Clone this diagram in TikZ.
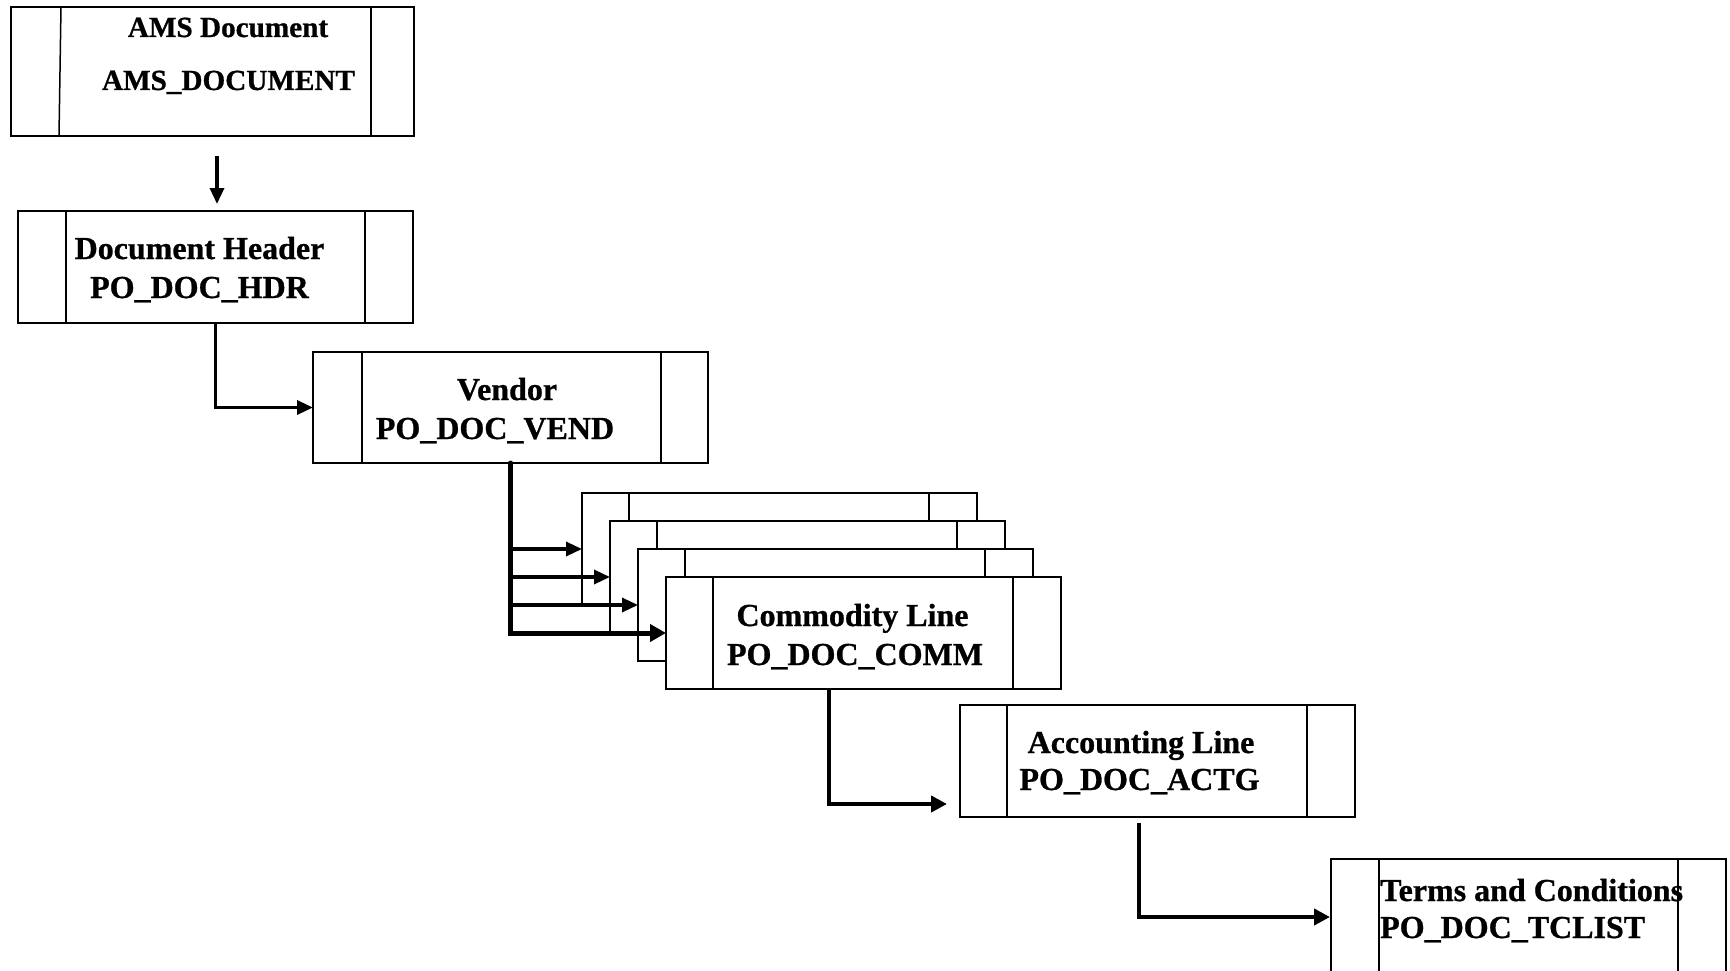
\documentclass[tikz,border=0pt]{standalone}
\usepackage{fontspec}
\setmainfont{Liberation Serif}[BoldFeatures={FakeBold=0.8}]
\usetikzlibrary{arrows.meta}

\tikzset{
  tbox/.style={draw, line width=1.5pt, fill=white, inner sep=0pt, outer sep=0pt,
               minimum width=395pt, minimum height=112pt},
  % two inner vertical bars, #1 from the left side, #2 from the right side
  sides/.style 2 args={path picture={
      \draw[line width=1.5pt]
        ([xshift=#1]path picture bounding box.north west) --
        ([xshift=#1]path picture bounding box.south west);
      \draw[line width=1.5pt]
        ([xshift=-#2]path picture bounding box.north east) --
        ([xshift=-#2]path picture bounding box.south east);}},
  lbl/.style={font=\fontsize{32}{38}\selectfont\bfseries, inner sep=0pt, anchor=base},
  small lbl/.style={lbl, font=\fontsize{29.2}{35}\selectfont\bfseries},
  link/.style={line width=3.3pt, -{Triangle[length=16pt,width=14pt]}},
  bold link/.style={line width=4.2pt, -{Triangle[length=16pt,width=16pt]}},
  heavy/.style={line width=5pt, line cap=round, -{Triangle[length=16pt,width=17pt]}},
}

\begin{document}
\begin{tikzpicture}[x=1pt, y=-1pt]
\useasboundingbox[fill=white] (0,0) rectangle (1730,971);

% top-level document box (left bar slightly slanted)
\node[tbox, minimum width=403pt, minimum height=129pt,
      path picture={
        \draw[line width=1.5pt]
          ([xshift=50pt]path picture bounding box.north west) --
          ([xshift=48pt]path picture bounding box.south west);
        \draw[line width=1.5pt]
          ([xshift=-43pt]path picture bounding box.north east) --
          ([xshift=-43pt]path picture bounding box.south east);}]
      (ams) at (212.5,71.5) {};
\node[small lbl] (amsA) at (228,37) {AMS Document};
\node[small lbl] (amsB) at (228.5,90) {AMS\_DOCUMENT};

% document header
\node[tbox, sides={48pt}{48pt}] (hdr) at (215.5,267) {};
\node[lbl] (hdrA) at (199.5,259) {Document Header};
\node[lbl] (hdrB) at (199.5,298) {PO\_DOC\_HDR};

% vendor
\node[tbox, sides={49pt}{47pt}, minimum height=111pt] (vend) at (510.5,407.5) {};
\node[lbl] (vendA) at (507,400) {Vendor};
\node[lbl] (vendB) at (495,439) {PO\_DOC\_VEND};

% stacked commodity lines
\node[tbox, sides={47pt}{48pt}] (s1) at (779.5,549) {};
\node[tbox, sides={47pt}{48pt}] (s2) at (807.5,577) {};
\node[tbox, sides={47pt}{48pt}] (s3) at (835.5,605) {};
\node[tbox, sides={47pt}{48pt}] (comm) at (863.5,633) {};
\node[lbl] (commA) at (852.5,626) {Commodity Line};
\node[lbl] (commB) at (855,665) {PO\_DOC\_COMM};

% accounting line
\node[tbox, sides={47pt}{48pt}] (acct) at (1157.5,761) {};
\node[lbl] (acctA) at (1141,753) {Accounting Line};
\node[lbl] (acctB) at (1139.5,790) {PO\_DOC\_ACTG};

% terms and conditions (runs past the lower edge)
\node[tbox, sides={48pt}{48pt}, minimum height=116pt] (terms) at (1528.5,917) {};
\node[lbl, anchor=base west] (termsA) at (1380,901) {Terms and Conditions};
\node[lbl, anchor=base west] (termsB) at (1380,938) {PO\_DOC\_TCLIST};

% connectors
\draw[link, shorten <=20pt, shorten >=7pt] ([xshift=4.5pt]ams.south) -- ([xshift=1.5pt]hdr.north);
\draw[link] (hdr.south) |- (vend.west);

\draw[link] (vend.south |- s1.west) -- (s1.west);
\draw[link] (vend.south |- s2.west) -- (s2.west);
\draw[link] (vend.south |- s3.west) -- (s3.west);
\draw[heavy] (vend.south) |- (comm.west);

\draw[bold link, shorten >=13pt] ([xshift=-34.5pt]comm.south) |- ([yshift=-43pt]acct.west);
\draw[bold link, shorten <=6pt, shorten >=1pt] ([xshift=-18.5pt]acct.south) |- (terms.west);
\end{tikzpicture}
\end{document}
